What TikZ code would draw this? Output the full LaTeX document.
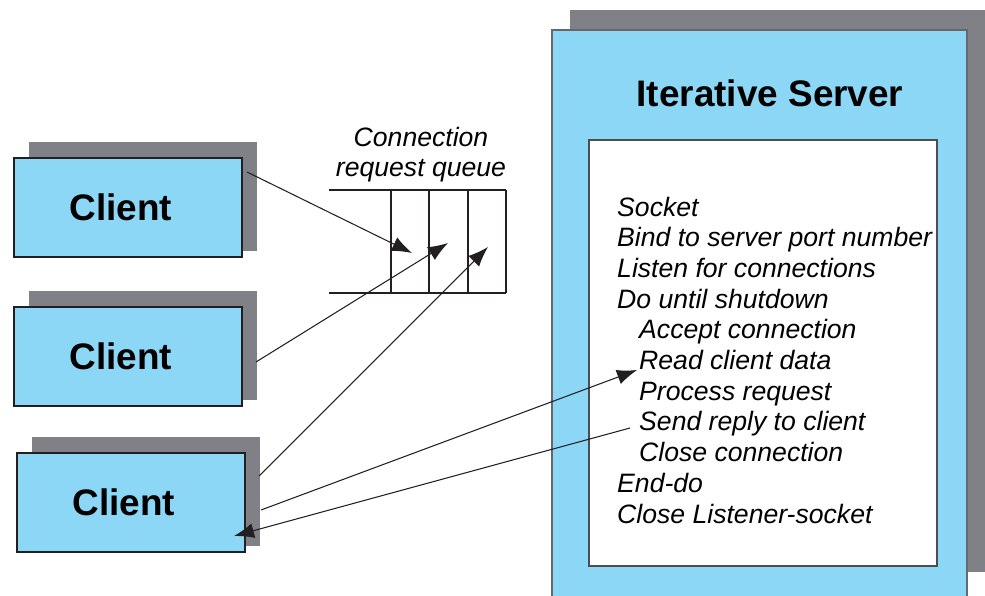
\documentclass[tikz,border=0pt]{standalone}
\usepackage{fontspec}
\setmainfont{Liberation Sans}
\usetikzlibrary{arrows.meta}
\def\unit{0.03cm}
\definecolor{boxblue}{RGB}{139,215,245}
\definecolor{shadowgray}{RGB}{128,129,134}
\definecolor{inkline}{RGB}{35,31,32}

\begin{document}
\begin{tikzpicture}[x=\unit,y=-\unit,line join=miter]
    \tikzstyle{shadow}=[rectangle,fill=shadowgray,draw=none,inner sep=0pt]
    \tikzstyle{client}=[rectangle,fill=boxblue,draw=inkline,line width=1.1pt,
        minimum width=228*\unit,minimum height=99*\unit,inner sep=0pt,
        font=\fontsize{31.5}{36}\selectfont\bfseries]
    \tikzstyle{step line}=[anchor=base west,inner sep=0pt,
        font=\fontsize{22.7}{26}\selectfont\itshape]
    \tikzstyle{arr}=[-{Latex[length=20*\unit,width=15*\unit]},draw=inkline,line width=0.9pt]

    \useasboundingbox (0,0) rectangle (985,596);
    \clip (0,0) rectangle (985,596);

    % Clients with their shadows
    \foreach \name / \x / \y in {1/128/207.5, 2/128/356.5, 3/131/502.5} {
        \node[shadow,minimum width=228*\unit,minimum height=109*\unit]
            (S-\name) at (\x+15,\y-11) {};
        \node[client] (C-\name) at (\x,\y) {\hspace*{-0.42cm}Client};
    }

    % Server box
    \node[shadow,minimum width=430*\unit,minimum height=562*\unit] (SS) at (785,291) {};
    \node[rectangle,fill=boxblue,draw=shadowgray!80!black,line width=0.9pt,
        minimum width=415*\unit,minimum height=580*\unit,inner sep=0pt] (srv) at (759.5,320) {};
    \node[anchor=base,inner sep=0pt,font=\fontsize{31.5}{36}\selectfont\bfseries]
        (title) at (770,107) {Iterative Server};
    \node[rectangle,fill=white,draw=inkline!80,line width=0.9pt,
        minimum width=348*\unit,minimum height=426*\unit,inner sep=0pt] (code) at (763,353) {};

    % Steps of the server loop
    \foreach \txt / \x / \i in {Socket/617/1, Bind to server port number/617/2,
        Listen for connections/617/3, Do until shutdown/617/4,
        Accept connection/639/5, Read client data/639/6, Process request/639/7,
        Send reply to client/639/8, Close connection/639/9, End-do/617/10,
        Close Listener-socket/617/11}
        \node[step line] (L-\i) at (\x,{216+30.7*(\i-1)}) {\txt};

    % Connection request queue
    \node[anchor=base,inner sep=0pt,font=\fontsize{22.7}{26}\selectfont\itshape]
        (ql1) at (421,147) {Connection};
    \node[anchor=base,inner sep=0pt,font=\fontsize{22.7}{26}\selectfont\itshape]
        (ql2) at (421,177) {request queue};
    \draw[inkline,line width=0.9pt] (329,190) -- (506,190) (329,293) -- (506,293);
    \foreach \x in {391,429,468,506}
        \draw[inkline,line width=0.9pt] (\x,190) -- (\x,293);

    % Arrow ends
    \coordinate (c1-out) at (247,172);
    \coordinate (c2-out) at (256,362);
    \coordinate (c3-out) at (259,476);
    \coordinate (c3-req) at (261,510);
    \coordinate (c3-in) at (234,536);
    \coordinate (q1-in) at (412,253);
    \coordinate (q2-in) at (448,243);
    \coordinate (q3-in) at (488,247);
    \coordinate (read) at (637,370);
    \coordinate (reply) at (630,428);

    % Connect clients to the queue and to the server
    \draw[arr] (c1-out) -- (q1-in);
    \draw[arr] (c2-out) -- (q2-in);
    \draw[arr] (c3-out) -- (q3-in);
    \draw[arr] (c3-req) -- (read);
    \draw[arr] (reply) -- (c3-in);
\end{tikzpicture}
\end{document}
